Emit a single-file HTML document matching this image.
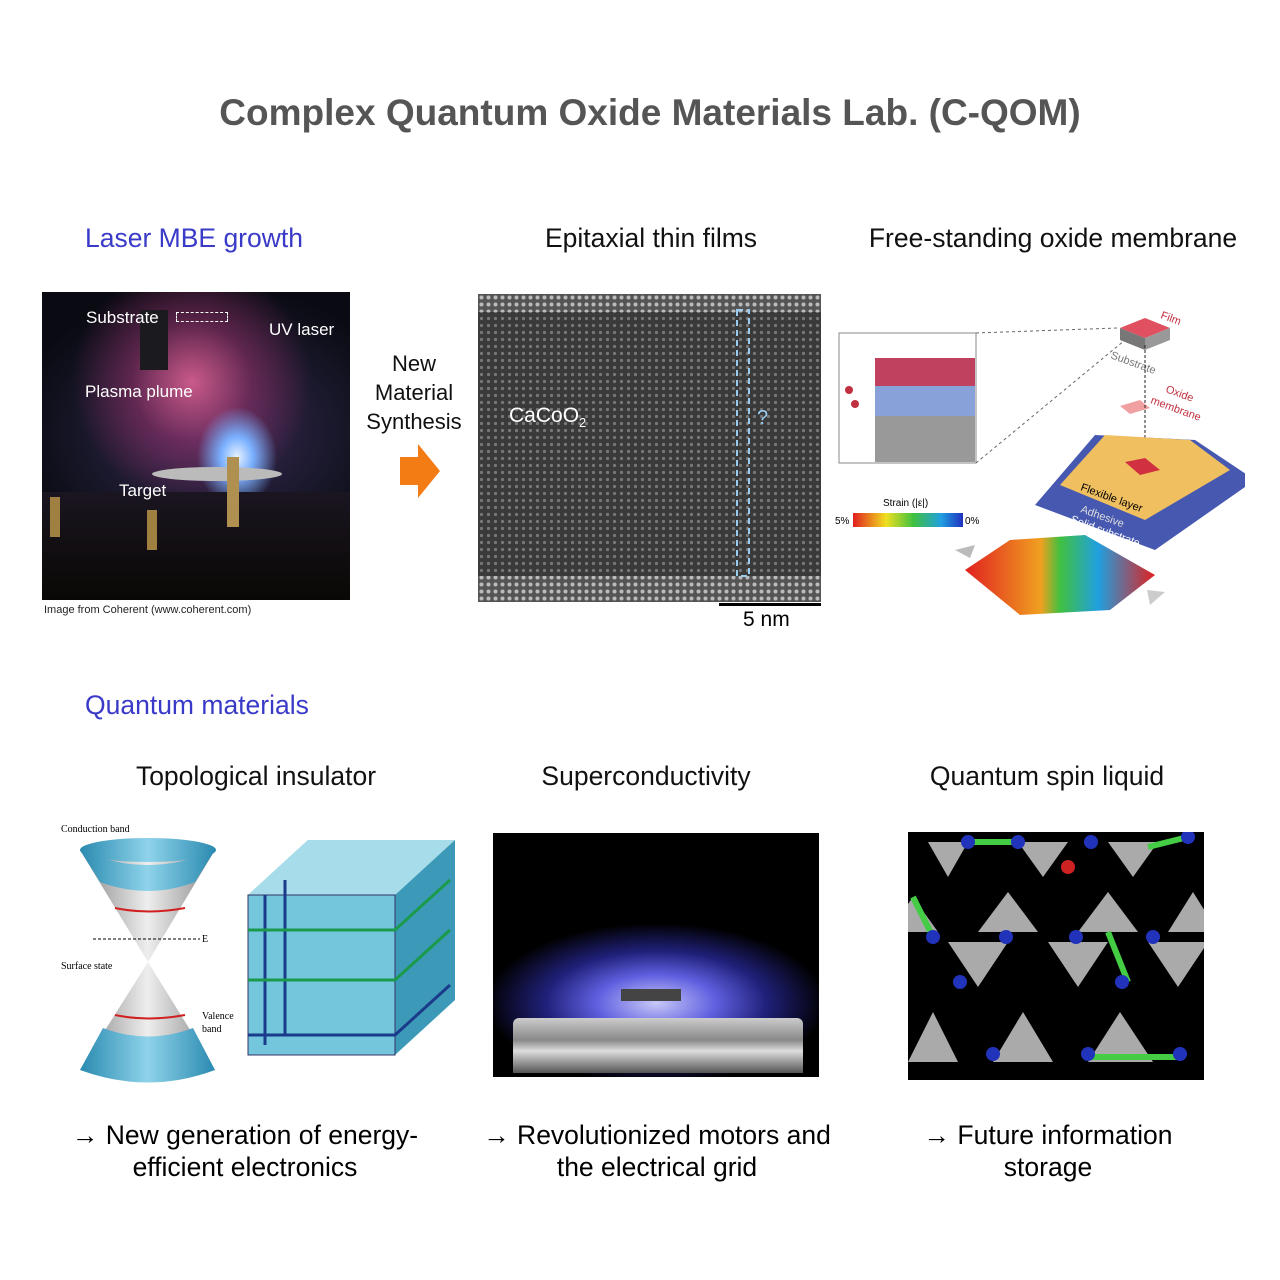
<!DOCTYPE html>
<html><head><meta charset="utf-8"><style>
body{margin:0;width:1280px;height:1280px;background:#fff;position:relative;font-family:"Liberation Sans",sans-serif;overflow:hidden}
.t{position:absolute;white-space:nowrap}
.c{transform:translateX(-50%);text-align:center}
.h{font-size:26.5px;color:#111}
.b{color:#3a3ac8;font-size:26.5px}
</style></head><body>
<div class="t c" style="left:650px;top:92px;font-size:37px;font-weight:bold;color:#555">Complex Quantum Oxide Materials Lab. (C-QOM)</div>
<div class="t b" style="left:85px;top:223px">Laser MBE growth</div>
<div class="t c h" style="left:651px;top:223px">Epitaxial thin films</div>
<div class="t c h" style="left:1053px;top:223px">Free-standing oxide membrane</div>

<!-- Laser MBE photo -->
<div style="position:absolute;left:42px;top:292px;width:308px;height:308px;overflow:hidden;background:
radial-gradient(ellipse 40px 50px at 195px 165px,#e8f2ff 0%,#7ab0ff 40%,rgba(60,90,200,0) 100%),
radial-gradient(ellipse 120px 120px at 150px 90px,rgba(230,100,150,.85) 0%,rgba(160,50,110,.5) 50%,rgba(0,0,0,0) 100%),
radial-gradient(ellipse 200px 150px at 170px 140px,#3a2a55 0%,#151525 70%,#0a0a12 100%)">
<div style="position:absolute;left:98px;top:18px;width:28px;height:60px;background:#1a1a1f"></div>
<div style="position:absolute;left:110px;top:175px;width:130px;height:14px;background:#bbb;border-radius:50%"></div>
<div style="position:absolute;left:0;top:200px;width:308px;height:108px;background:linear-gradient(#1a1520,#0a0805)"></div>
<div style="position:absolute;left:8px;top:205px;width:10px;height:40px;background:#a08040"></div>
<div style="position:absolute;left:105px;top:218px;width:10px;height:40px;background:#a08040"></div>
<div style="position:absolute;left:185px;top:165px;width:12px;height:70px;background:#b09050"></div>
<div class="t" style="left:44px;top:16px;color:#fff;font-size:17px">Substrate</div>
<div style="position:absolute;left:134px;top:20px;width:50px;height:8px;border:1.5px dashed #fff"></div>
<div class="t" style="left:227px;top:28px;color:#fff;font-size:17px">UV laser</div>
<div class="t" style="left:43px;top:90px;color:#fff;font-size:17px">Plasma plume</div>
<div class="t" style="left:77px;top:189px;color:#fff;font-size:17px">Target</div>
</div>
<div class="t" style="left:44px;top:604px;font-size:11px;color:#222">Image from Coherent (www.coherent.com)</div>

<div class="t c" style="left:414px;top:349px;font-size:22px;line-height:29px;color:#111">New<br>Material<br>Synthesis</div>
<svg style="position:absolute;left:398px;top:442px" width="44" height="58"><polygon points="2,15 20,15 20,2 42,29 20,56 20,43 2,43" fill="#f47c14"/></svg>

<!-- STEM -->
<svg style="position:absolute;left:478px;top:294px" width="343" height="308">
<defs><pattern id="d" width="7" height="7" patternUnits="userSpaceOnUse"><rect width="7" height="7" fill="#3a3a3a"/><circle cx="3.5" cy="3.5" r="1.6" fill="#777"/></pattern>
<pattern id="d2" width="7" height="7" patternUnits="userSpaceOnUse"><rect width="7" height="7" fill="#555"/><circle cx="3.5" cy="3.5" r="2" fill="#bbb"/></pattern></defs>
<rect width="343" height="308" fill="url(#d)"/>
<rect width="343" height="18" fill="url(#d2)"/><rect y="282" width="343" height="26" fill="url(#d2)"/>
<rect x="259" y="16" width="12" height="266" fill="none" stroke="#9ce" stroke-width="2" stroke-dasharray="6,4"/>
<text x="31" y="128" fill="#fff" font-size="21" font-family="Liberation Sans">CaCoO<tspan font-size="13" dy="5">2</tspan></text>
<text x="279" y="130" fill="#9ce" font-size="20" font-family="Liberation Sans">?</text>
</svg>
<div style="position:absolute;left:719px;top:603px;width:102px;height:3px;background:#000"></div>
<div class="t" style="left:743px;top:608px;font-size:21px">5 nm</div>

<!-- membrane -->
<svg style="position:absolute;left:835px;top:300px" width="410" height="320" font-family="Liberation Sans">
<rect x="4" y="33" width="137" height="130" fill="#fff" stroke="#888"/>
<rect x="40" y="58" width="100" height="28" fill="#c04060"/>
<rect x="40" y="86" width="100" height="30" fill="#6a8ad0" opacity=".8"/>
<rect x="40" y="116" width="100" height="46" fill="#999"/>
<circle cx="14" cy="90" r="4" fill="#c03040"/><circle cx="20" cy="104" r="4" fill="#c03040"/>
<line x1="141" y1="33" x2="282" y2="28" stroke="#666" stroke-dasharray="3,3"/><line x1="141" y1="163" x2="290" y2="40" stroke="#666" stroke-dasharray="3,3"/>
<polygon points="285,28 310,18 335,28 310,38" fill="#e05060"/><polygon points="285,28 310,38 310,50 285,40" fill="#777"/><polygon points="335,28 310,38 310,50 335,40" fill="#999"/>
<text x="325" y="18" font-size="11" fill="#c03040" transform="rotate(20 325 18)">Film</text>
<text x="275" y="58" font-size="11" fill="#777" transform="rotate(20 275 58)">Substrate</text>
<text x="330" y="92" font-size="11" fill="#c03040" transform="rotate(20 330 92)">Oxide</text>
<text x="315" y="103" font-size="11" fill="#c03040" transform="rotate(20 315 103)">membrane</text>
<polygon points="285,106 305,100 315,108 295,114" fill="#f0a0a0"/>
<line x1="310" y1="45" x2="310" y2="165" stroke="#222" stroke-dasharray="3,2"/>
<polygon points="200,205 260,135 360,140 420,180 320,250" fill="#4658b0"/>
<polygon points="225,185 270,135 355,140 395,170 310,220" fill="#f0c060"/>
<polygon points="290,162 310,158 325,170 305,175" fill="#d03040"/>
<text x="245" y="190" font-size="11" transform="rotate(20 245 190)">Flexible layer</text>
<text x="245" y="212" font-size="11" fill="#ddd" transform="rotate(20 245 212)">Adhesive</text>
<text x="235" y="222" font-size="11" fill="#fff" transform="rotate(20 235 222)">Solid substrate</text>
<text x="48" y="206" font-size="10">Strain (|ε|)</text>
<defs><linearGradient id="s"><stop offset="0" stop-color="#e02020"/><stop offset=".3" stop-color="#f0e020"/><stop offset=".55" stop-color="#40c040"/><stop offset=".8" stop-color="#20a0e0"/><stop offset="1" stop-color="#2030c0"/></linearGradient>
<linearGradient id="s2" x1="0" x2="1"><stop offset="0" stop-color="#e02020"/><stop offset=".4" stop-color="#f0a020"/><stop offset=".5" stop-color="#40c040"/><stop offset=".7" stop-color="#20a0e0"/><stop offset="1" stop-color="#e02020"/></linearGradient></defs>
<rect x="18" y="213" width="110" height="14" fill="url(#s)"/>
<text x="0" y="224" font-size="10">5%</text><text x="130" y="224" font-size="10">0%</text>
<polygon points="130,270 175,240 250,235 320,275 275,310 185,315" fill="url(#s2)"/>
<polygon points="120,250 140,245 135,258" fill="#bbb"/><polygon points="330,292 315,305 312,290" fill="#ccc"/>
</svg>

<div class="t b" style="left:85px;top:690px">Quantum materials</div>
<div class="t c h" style="left:256px;top:761px">Topological insulator</div>
<div class="t c h" style="left:646px;top:761px">Superconductivity</div>
<div class="t c h" style="left:1047px;top:761px">Quantum spin liquid</div>

<!-- TI -->
<svg style="position:absolute;left:55px;top:820px" width="405" height="270" font-family="Liberation Serif">
<defs><linearGradient id="cone" x1="0" x2="1"><stop offset="0" stop-color="#888"/><stop offset=".5" stop-color="#eee"/><stop offset="1" stop-color="#888"/></linearGradient>
<linearGradient id="tc" x1="0" x2="1"><stop offset="0" stop-color="#2a8ab0"/><stop offset=".5" stop-color="#8fd3ea"/><stop offset="1" stop-color="#2a8ab0"/></linearGradient></defs>
<polygon points="25,30 160,30 93,142" fill="url(#cone)"/>
<ellipse cx="93" cy="30" rx="68" ry="12" fill="url(#tc)"/>
<path d="M25,30 Q93,60 160,30 L140,62 Q93,80 45,62Z" fill="url(#tc)"/>
<polygon points="93,142 25,250 160,250" fill="url(#cone)"/>
<path d="M48,208 Q93,225 138,208 L160,250 Q93,275 25,250Z" fill="url(#tc)"/>
<line x1="38" y1="119" x2="145" y2="119" stroke="#000" stroke-dasharray="3,2"/>
<text x="147" y="122" font-size="10">E</text>
<text x="6" y="12" font-size="10">Conduction band</text><text x="6" y="149" font-size="10">Surface state</text>
<text x="147" y="199" font-size="10">Valence</text><text x="147" y="212" font-size="10">band</text>
<path d="M60,88 Q93,95 130,88" stroke="#d02020" stroke-width="2" fill="none"/>
<path d="M60,195 Q93,202 130,195" stroke="#d02020" stroke-width="2" fill="none"/>
<polygon points="193,75 253,20 300,20 300,180 240,235 193,235" fill="#6ec4da"/>
<polygon points="193,75 253,20 400,20 340,75" fill="#a7dcea"/>
<polygon points="340,75 400,20 400,180 340,235" fill="#3c9ab8"/>
<rect x="193" y="75" width="147" height="160" fill="#74c6dd" stroke="#336"/>
<path d="M210,75 L210,225 M230,60 L230,215" stroke="#1a3a8a" stroke-width="3" fill="none"/>
<path d="M193,110 L340,110 L395,60 M193,160 L340,160 L395,110" stroke="#1a9a4a" stroke-width="3" fill="none"/>
<path d="M193,215 L340,215 L395,165" stroke="#1a3a8a" stroke-width="3" fill="none"/>
</svg>

<!-- SC -->
<div style="position:absolute;left:493px;top:833px;width:326px;height:244px;background:
radial-gradient(ellipse 170px 80px at 163px 170px,#c8c8f8 0%,#6060e0 35%,#20207a 65%,#000 100%)">
<div style="position:absolute;left:20px;top:185px;width:290px;height:55px;background:linear-gradient(#ccc,#888 40%,#ddd 60%,#555);border-radius:6px 6px 0 0"></div>
<div style="position:absolute;left:128px;top:156px;width:60px;height:12px;background:#444"></div>
</div>

<!-- QSL -->
<svg style="position:absolute;left:908px;top:832px" width="296" height="248">
<rect width="296" height="248" fill="#000"/>
<g fill="#aaa">
<polygon points="20,10 60,10 40,45"/><polygon points="110,10 160,10 135,45"/><polygon points="200,10 250,10 225,45"/>
<polygon points="-20,100 30,100 5,65"/><polygon points="70,100 130,100 100,60"/><polygon points="170,100 230,100 200,60"/><polygon points="260,100 310,100 285,60"/>
<polygon points="40,110 100,110 70,155"/><polygon points="140,110 200,110 170,155"/><polygon points="240,110 300,110 270,155"/>
<polygon points="0,230 50,230 25,180"/><polygon points="85,230 145,230 115,180"/><polygon points="180,230 245,230 212,180"/>
</g>
<g stroke="#4c4" stroke-width="6"><line x1="60" y1="10" x2="110" y2="10"/><line x1="5" y1="65" x2="25" y2="105"/><line x1="200" y1="100" x2="220" y2="150"/><line x1="180" y1="225" x2="270" y2="225"/><line x1="240" y1="15" x2="280" y2="5"/></g>
<g fill="#2233bb"><circle cx="60" cy="10" r="7"/><circle cx="110" cy="10" r="7"/><circle cx="183" cy="10" r="7"/><circle cx="280" cy="5" r="7"/><circle cx="25" cy="105" r="7"/><circle cx="98" cy="105" r="7"/><circle cx="168" cy="105" r="7"/><circle cx="245" cy="105" r="7"/><circle cx="52" cy="150" r="7"/><circle cx="214" cy="150" r="7"/><circle cx="85" cy="222" r="7"/><circle cx="180" cy="222" r="7"/><circle cx="272" cy="222" r="7"/></g>
<circle cx="160" cy="35" r="7" fill="#c22"/>
</svg>

<div class="t c" style="left:245px;top:1119px;font-size:26.5px;line-height:32px">→ New generation of energy-<br>efficient electronics</div>
<div class="t c" style="left:657px;top:1119px;font-size:26.5px;line-height:32px">→ Revolutionized motors and<br>the electrical grid</div>
<div class="t c" style="left:1048px;top:1119px;font-size:26.5px;line-height:32px">→ Future information<br>storage</div>
</body></html>
